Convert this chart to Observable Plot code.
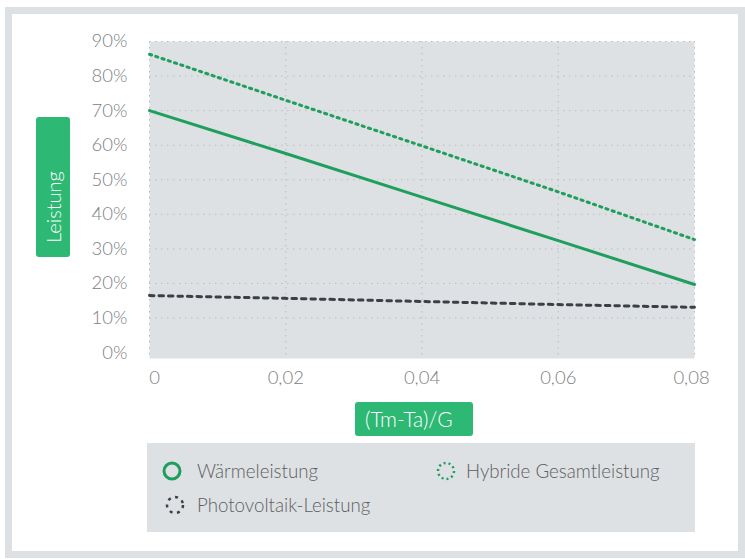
<!DOCTYPE html>
<html>
<head>
<meta charset="utf-8">
<script src="https://cdn.jsdelivr.net/npm/d3@7"></script>
<script src="https://cdn.jsdelivr.net/npm/@observablehq/plot@0.6"></script>
<style>
  html, body { margin: 0; padding: 0; background: #fff; }
  body { width: 745px; height: 559px; position: relative; overflow: hidden; font-family: Lato, "Open Sans", sans-serif; font-weight: 300; }
  #frame { position: absolute; left: 5px; top: 7px; width: 726px; height: 537px; border: 7px solid #dde1e4; }
  #chart { position: absolute; left: 0; top: 0; }
  .badge { position: absolute; background: #2db874; color: #fff; border-radius: 3px; font-weight: 300; }
  #ylab { left: 36px; top: 117px; width: 34px; height: 140px; }
  #ylab span { position: absolute; left: 17px; top: 90px; transform: translate(-50%, -50%) rotate(-90deg); white-space: nowrap; font-size: 20px; line-height: 20px; }
  #xlab { left: 355px; top: 402px; width: 118px; height: 34px; font-size: 21px; line-height: 34px; }
  #xlab span { position: absolute; left: 10px; top: 0; white-space: nowrap; }
  #legend { position: absolute; left: 147px; top: 443px; width: 548px; height: 89px; background: #dde1e4; }
  .icon { position: absolute; }
  .ltext { position: absolute; font-size: 18.7px; color: #5e5e5e; white-space: nowrap; line-height: 20px; }
</style>
</head>
<body>
<div id="frame"></div>
<div id="chart"></div>
<div class="badge" id="ylab"><span>Leistung</span></div>
<div class="badge" id="xlab"><span>(Tm-Ta)/G</span></div>
<div id="legend"></div>
<script>
const xValues = [0, 0.02, 0.04, 0.06, 0.08];
const waermeleistung = [0.70, 0.576, 0.45, 0.324, 0.197];
const hybridGesamt = [0.863, 0.73, 0.598, 0.465, 0.327];
const pvLeistung = [0.165, 0.157, 0.148, 0.139, 0.131];
const seriesNames = ["Wärmeleistung", "Hybride Gesamtleistung", "Photovoltaik-Leistung"];
const yTicks = [0, 0.1, 0.2, 0.3, 0.4, 0.5, 0.6, 0.7, 0.8, 0.9];
const xTicks = [0, 0.02, 0.04, 0.06, 0.08];

const green = "#1f9e5e";
const dark = "#3b4047";
const gridColor = "#b9bdc0";
const tickColor = "#808080";

const rows = (ys) => xValues.map((x, i) => ({x, y: ys[i]}));
const fmtX = d => d === 0 ? "0" : d.toFixed(2).replace(".", ",");
const fmtY = d => Math.round(d * 100) + "%";

const plot = Plot.plot({
  width: 745,
  height: 400,
  marginLeft: 149,
  marginRight: 51,
  marginTop: 41,
  marginBottom: 42,
  style: {fontFamily: "Lato, 'Open Sans', sans-serif", fontSize: "18.5px", fontWeight: 300, background: "transparent"},
  x: {domain: [0, 0.08]},
  y: {domain: [-0.017, 0.9]},
  marks: [
    Plot.frame({fill: "#dde1e4", stroke: null}),
    Plot.gridY(yTicks.filter(d => d > 0), {stroke: gridColor, strokeOpacity: 1, strokeDasharray: "1.5,4.5"}),
    Plot.gridX(xTicks, {stroke: gridColor, strokeOpacity: 1, strokeDasharray: "1.5,4.5"}),
    Plot.axisY(yTicks, {tickSize: 0, tickPadding: 22, tickFormat: fmtY, fill: tickColor, label: null}),
    Plot.axisX([xTicks[0]], {tickSize: 0, tickPadding: 12, tickFormat: fmtX, fill: tickColor, label: null, dx: 5}),
    Plot.axisX(xTicks.slice(1, 4), {tickSize: 0, tickPadding: 12, tickFormat: fmtX, fill: tickColor, label: null}),
    Plot.axisX([xTicks[4]], {tickSize: 0, tickPadding: 12, tickFormat: fmtX, fill: tickColor, label: null, dx: -3}),
    Plot.line(rows(pvLeistung), {x: "x", y: "y", stroke: dark, strokeWidth: 3, strokeDasharray: "4.5,5"}),
    Plot.line(rows(hybridGesamt), {x: "x", y: "y", stroke: green, strokeWidth: 3, strokeDasharray: "2.2,4.4"}),
    Plot.line(rows(waermeleistung), {x: "x", y: "y", stroke: green, strokeWidth: 3})
  ]
});
document.getElementById("chart").appendChild(plot);

const legendItems = [
  {name: seriesNames[0], color: green, dash: null, iconX: 25, textX: 50, cy: 28},
  {name: seriesNames[1], color: green, dash: "2,3", iconX: 299, textX: 319, cy: 28},
  {name: seriesNames[2], color: dark, dash: "3,4.5", iconX: 28, textX: 50, cy: 62}
];
const legend = document.getElementById("legend");
for (const it of legendItems) {
  const icon = document.createElement("div");
  icon.className = "icon";
  icon.style.left = (it.iconX - 10) + "px";
  icon.style.top = (it.cy - 10) + "px";
  icon.innerHTML = `<svg width="20" height="20" style="display:block"><circle cx="10" cy="10" r="8" fill="none" stroke="${it.color}" stroke-width="${it.dash ? 2.5 : 3}" ${it.dash ? `stroke-dasharray="${it.dash}"` : ""}/></svg>`;
  legend.appendChild(icon);
  const t = document.createElement("div");
  t.className = "ltext";
  t.style.left = it.textX + "px";
  t.style.top = (it.cy - 10) + "px";
  t.textContent = it.name;
  legend.appendChild(t);
}
</script>
</body>
</html>
